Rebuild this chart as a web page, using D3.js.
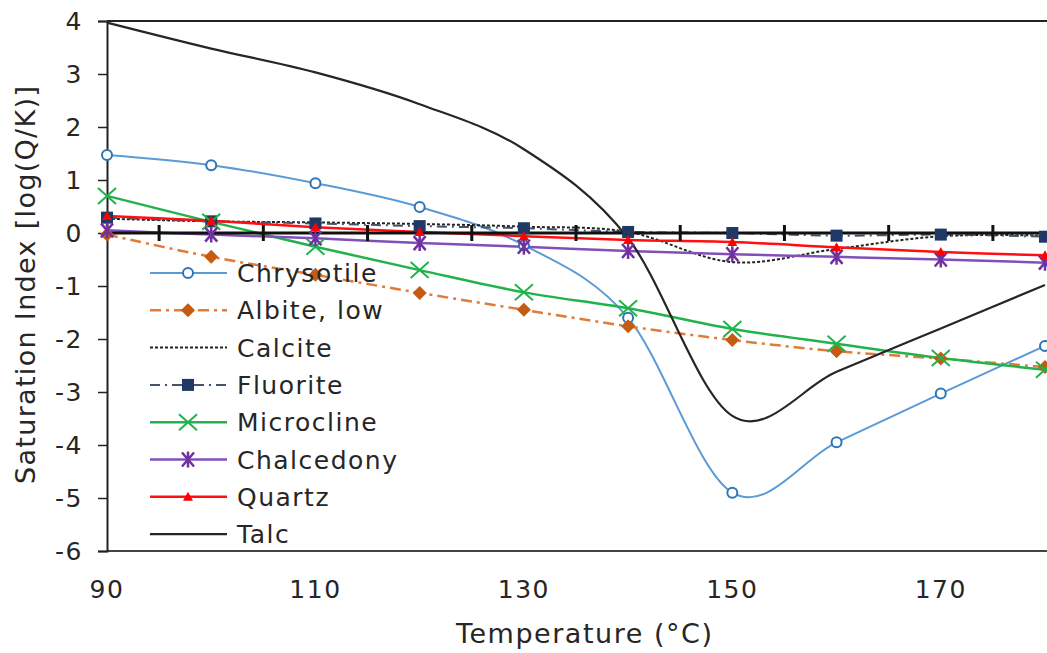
<!DOCTYPE html>
<meta charset="UTF-8">
<head>
    <title>Saturation Index</title>
</head>
<style>
    body {
        margin: 0;
        background: #fff;
    }

    text {
        font-family: "DejaVu Sans", Verdana, sans-serif;
        fill: #262626;
        letter-spacing: 1.5px;
    }
</style>
<body>
    <div id="chart"></div>
    <script src="https://d3js.org/d3.v7.min.js"></script>
    <script>
        // temperatures (°C)
        var temps = [90, 100, 110, 120, 130, 140, 150, 160, 170, 180];

        // saturation indices
        var chrysotile = [1.47, 1.28, 0.94, 0.49, -0.23, -1.6, -4.9, -3.95, -3.03, -2.13];
        var albite = [-0.03, -0.45, -0.79, -1.13, -1.45, -1.76, -2.02, -2.23, -2.37, -2.53];
        var calcite = [0.27, 0.22, 0.2, 0.17, 0.12, 0.02, -0.55, -0.3, -0.06, -0.05];
        var fluorite = [0.29, 0.22, 0.18, 0.13, 0.09, 0.02, 0.0, -0.05, -0.03, -0.07];
        var microcline = [0.7, 0.21, -0.26, -0.7, -1.12, -1.42, -1.81, -2.09, -2.36, -2.58];
        var chalcedony = [0.05, -0.03, -0.1, -0.19, -0.26, -0.34, -0.4, -0.45, -0.5, -0.56];
        var quartz = [0.32, 0.23, 0.11, 0.02, -0.06, -0.13, -0.17, -0.27, -0.36, -0.42];
        var talc = [3.97, 3.48, 3.03, 2.43, 1.58, -0.1, -3.45, -2.62, -1.8, -0.98];

        var xTicks = [90, 110, 130, 150, 170];
        var crossTicks = [95, 105, 115, 125, 135, 145, 155, 165, 175];
        var yTicks = [4, 3, 2, 1, 0, -1, -2, -3, -4, -5, -6];

        var series = [
            { name: "Chrysotile", values: chrysotile, color: "#5b9bd5", mark: "#2e75b6", dash: null, width: 2, marker: "circle" },
            { name: "Albite, low", values: albite, color: "#e07b39", mark: "#c55a11", dash: "11,5,3,5", width: 2.5, marker: "diamond" },
            { name: "Calcite", values: calcite, color: "#222", mark: "#222", dash: "3,2", width: 2, marker: null },
            { name: "Fluorite", values: fluorite, color: "#44546a", mark: "#1f3864", dash: "10,5,2,5", width: 2, marker: "square" },
            { name: "Microcline", values: microcline, color: "#22b24c", mark: "#22b24c", dash: null, width: 2.5, marker: "x" },
            { name: "Chalcedony", values: chalcedony, color: "#8050b8", mark: "#7030a0", dash: null, width: 2.5, marker: "star" },
            { name: "Quartz", values: quartz, color: "#ff1010", mark: "#ff0000", dash: null, width: 2.5, marker: "triangle" },
            { name: "Talc", values: talc, color: "#262626", mark: "#262626", dash: null, width: 2.2, marker: null }
        ];

        var w = 1047, h = 653;
        var mLeft = 107, mRight = 1045, mTop = 21, mBottom = 551;

        var x = d3.scaleLinear().domain([90, 180]).range([mLeft, mRight]);
        var y = d3.scaleLinear().domain([-6, 4]).range([mBottom, mTop]);

        var svg = d3.select("#chart").append("svg")
            .attr("width", w)
            .attr("height", h);

        // frame
        svg.append("line").attr("x1", mLeft).attr("x2", w).attr("y1", mTop).attr("y2", mTop)
            .attr("stroke", "#222").attr("stroke-width", 2);
        svg.append("line").attr("x1", mLeft).attr("x2", w).attr("y1", mBottom).attr("y2", mBottom)
            .attr("stroke", "#444").attr("stroke-width", 2);

        // y axis (plain hyphen for negatives, like the original)
        var yAxis = svg.append("g").attr("transform", "translate(" + mLeft + ",0)")
            .call(d3.axisLeft(y).tickValues(yTicks).tickSize(9).tickPadding(15).tickFormat(function (d) { return String(d); }));
        yAxis.select(".domain").attr("stroke", "#222").attr("stroke-width", 2);
        yAxis.selectAll(".tick line").attr("stroke", "#222").attr("stroke-width", 1.5);
        yAxis.selectAll("text").attr("font-size", 25).attr("font-family", "DejaVu Sans").attr("fill", "#262626");

        // x labels at the bottom
        svg.append("g").selectAll("text").data(xTicks).enter().append("text")
            .attr("x", function (d) { return x(d); })
            .attr("y", 598)
            .attr("text-anchor", "middle")
            .attr("font-size", 25)
            .text(function (d) { return d; });

        // axis titles
        svg.append("text").attr("x", 584).attr("y", 643).attr("text-anchor", "middle")
            .attr("font-size", 27).attr("textLength", 256).attr("lengthAdjust", "spacing")
            .style("letter-spacing", "0px").text("Temperature (°C)");
        svg.append("text").attr("transform", "translate(35,285) rotate(-90)")
            .attr("text-anchor", "middle").attr("font-size", 27)
            .attr("textLength", 398).attr("lengthAdjust", "spacing")
            .style("letter-spacing", "0px").text("Saturation Index [log(Q/K)]");

        // series lines
        var line = d3.line()
            .x(function (d, i) { return x(temps[i]); })
            .y(function (d) { return y(d); })
            .curve(d3.curveCardinal);

        series.forEach(function (s) {
            svg.append("path")
                .attr("d", line(s.values))
                .attr("fill", "none")
                .attr("stroke", s.color)
                .attr("stroke-width", s.width)
                .attr("stroke-dasharray", s.dash);
        });

        // zero line with cross ticks
        svg.append("line").attr("x1", mLeft).attr("x2", w).attr("y1", y(0)).attr("y2", y(0))
            .attr("stroke", "#111").attr("stroke-width", 3);
        svg.append("g").selectAll("line").data(crossTicks).enter().append("line")
            .attr("x1", function (d) { return x(d); })
            .attr("x2", function (d) { return x(d); })
            .attr("y1", y(0) - 8).attr("y2", y(0) + 8)
            .attr("stroke", "#111").attr("stroke-width", 3);

        function drawMarker(g, type, cx, cy, col) {
            if (type === "circle") {
                g.append("circle").attr("cx", cx).attr("cy", cy).attr("r", 5)
                    .attr("fill", "#fff").attr("stroke", col).attr("stroke-width", 2);
            } else if (type === "diamond") {
                g.append("path").attr("d", "M" + cx + "," + (cy - 7) + "L" + (cx + 7) + "," + cy + "L" + cx + "," + (cy + 7) + "L" + (cx - 7) + "," + cy + "Z")
                    .attr("fill", col);
            } else if (type === "square") {
                g.append("rect").attr("x", cx - 6).attr("y", cy - 6).attr("width", 12).attr("height", 12)
                    .attr("fill", col);
            } else if (type === "x") {
                g.append("path").attr("d", "M" + (cx - 9) + "," + (cy - 8) + "L" + (cx + 9) + "," + (cy + 8) + "M" + (cx + 9) + "," + (cy - 8) + "L" + (cx - 9) + "," + (cy + 8))
                    .attr("stroke", col).attr("stroke-width", 2);
            } else if (type === "star") {
                g.append("path").attr("d", "M" + (cx - 6) + "," + (cy - 7) + "L" + (cx + 6) + "," + (cy + 7) + "M" + (cx + 6) + "," + (cy - 7) + "L" + (cx - 6) + "," + (cy + 7) + "M" + cx + "," + (cy - 8) + "L" + cx + "," + (cy + 8))
                    .attr("stroke", col).attr("stroke-width", 2.5);
            } else if (type === "triangle") {
                g.append("path").attr("d", "M" + cx + "," + (cy - 5) + "L" + (cx + 5) + "," + (cy + 4) + "L" + (cx - 5) + "," + (cy + 4) + "Z")
                    .attr("fill", col);
            }
        }

        // markers
        series.forEach(function (s) {
            if (!s.marker) return;
            var g = svg.append("g");
            s.values.forEach(function (v, i) {
                drawMarker(g, s.marker, x(temps[i]), y(v), s.mark);
            });
        });

        // legend (no background)
        var legend = svg.append("g");
        series.forEach(function (s, i) {
            var ly = 273 + i * 37.3;
            legend.append("line").attr("x1", 150).attr("x2", 227).attr("y1", ly).attr("y2", ly)
                .attr("stroke", s.color).attr("stroke-width", s.width).attr("stroke-dasharray", s.dash);
            if (s.marker) drawMarker(legend, s.marker, 188, ly, s.mark);
            legend.append("text").attr("x", 237).attr("y", ly + 9).attr("font-size", 25).text(s.name);
        });
    </script>
</body>
</html>
